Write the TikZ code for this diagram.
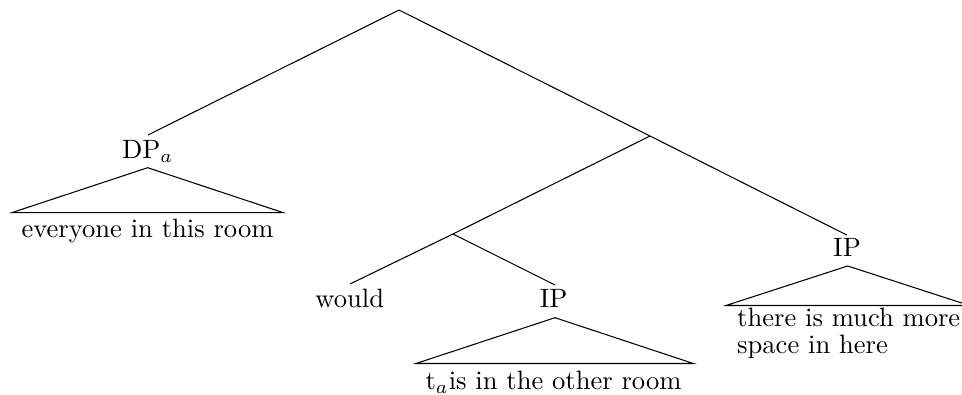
\documentclass[tikz,border=0pt]{standalone}
\begin{document}
\begin{tikzpicture}[x=0.3766pt,y=-0.3766pt,
  lbl/.style={inner sep=0pt,anchor=base},
  edge/.style={draw=black,line width=0.4pt},
  tri/.style={draw=black,line width=0.4pt}]
\useasboundingbox (0,0) rectangle (962,395);
\clip (0,0) rectangle (962,395);
% inner (empty) nodes
\coordinate (root) at (399,10);
\coordinate (x) at (650,136);
\coordinate (y) at (453,234);
% labels
\node[lbl] (dp) at (147.7,159) {DP$_a$};
\node[lbl] (would) at (349.7,308) {would};
\node[lbl] (ip1) at (553.7,308) {IP};
\node[lbl] (ip2) at (847,256.7) {IP};
% connector ends
\coordinate (dpT) at (148,135);
\coordinate (wouldT) at (350,284);
\coordinate (ip1T) at (555,285);
\coordinate (ip2T) at (846.7,235);
% edges
\draw[edge] (root) -- (dpT);
\draw[edge] (root) -- (x);
\draw[edge] (x) -- (ip2T);
\draw[edge] (x) -- (y);
\draw[edge] (y) -- (wouldT);
\draw[edge] (y) -- (ip1T);
% triangles
\coordinate (t1a) at (147.7,167.7);
\coordinate (t1l) at (11.7,212.7);
\coordinate (t1r) at (283.3,212.7);
\draw[tri] (t1l) -- (t1a) -- (t1r) -- cycle;
\coordinate (t2a) at (555,317.7);
\coordinate (t2l) at (416,363.5);
\coordinate (t2r) at (693.3,363.5);
\draw[tri] (t2l) -- (t2a) -- (t2r) -- cycle;
\coordinate (t3a) at (847.7,266);
\coordinate (t3l) at (726,305.5);
\coordinate (t3r) at (969.4,305.5);
\draw[tri] (t3l) -- (t3a) -- (t3r) -- cycle;
% yields
\node[lbl] (y1) at (147.5,237.3) {everyone in this room};
\node[lbl] (y2) at (553.5,389.3) {t$_a$is in the other room};
\node[lbl,anchor=base west] (y3a) at (736.7,326.7) {there is much more};
\node[lbl,anchor=base west] (y3b) at (736.7,354) {space in here};
\end{tikzpicture}
\end{document}
